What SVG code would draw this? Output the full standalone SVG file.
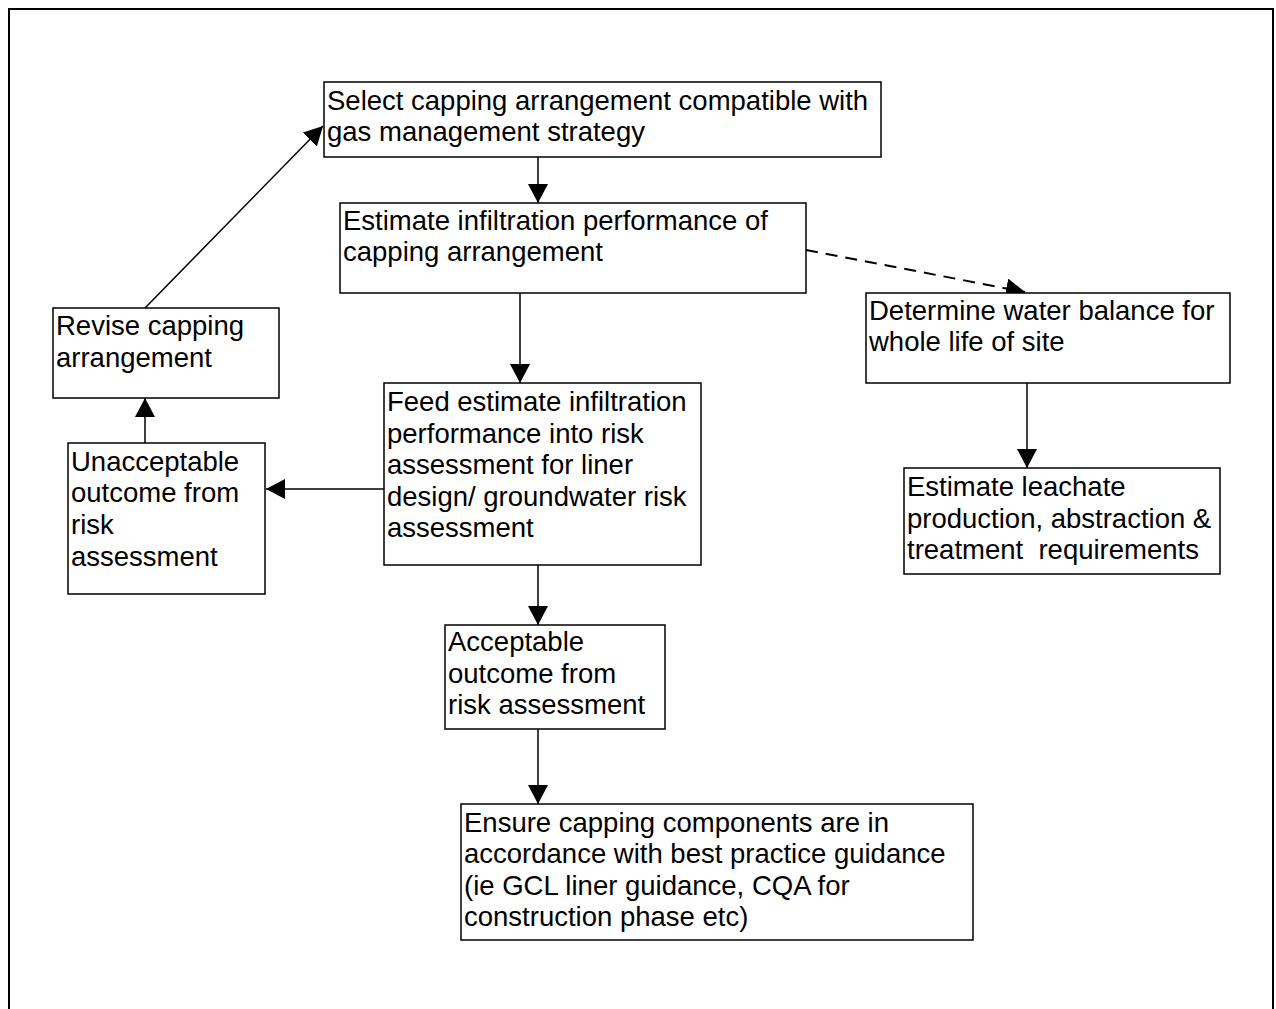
<svg xmlns="http://www.w3.org/2000/svg" width="1276" height="1009" viewBox="0 0 1276 1009">
<style>
.box{fill:#fff;stroke:#000;stroke-width:1.5}
.t{font-family:"Liberation Sans",Arial,sans-serif;font-size:27.5px;fill:#000}
.c{stroke:#000;stroke-width:1.5;fill:none}
.d{stroke-width:2;stroke-dasharray:12,8}
</style>
<defs>
<marker id="ah" markerUnits="userSpaceOnUse" markerWidth="22" markerHeight="22" refX="19" refY="10" orient="auto">
<path d="M0,0 L19,10 L0,20 Z" fill="#000"/>
</marker>
</defs>
<rect x="9" y="9" width="1264" height="1010" fill="#fff" stroke="#000" stroke-width="2"/>
<g id="connectors">
<line class="c" x1="538" y1="157" x2="538" y2="203" marker-end="url(#ah)"/>
<line class="c" x1="520" y1="293" x2="520" y2="383" marker-end="url(#ah)"/>
<line class="c d" x1="806" y1="250" x2="1025" y2="292" marker-end="url(#ah)"/>
<line class="c" x1="1027" y1="383" x2="1027" y2="468" marker-end="url(#ah)"/>
<line class="c" x1="384" y1="489" x2="266" y2="489" marker-end="url(#ah)"/>
<line class="c" x1="145" y1="443" x2="145" y2="398" marker-end="url(#ah)"/>
<line class="c" x1="145" y1="308" x2="323" y2="126" marker-end="url(#ah)"/>
<line class="c" x1="538" y1="565" x2="538" y2="625" marker-end="url(#ah)"/>
<line class="c" x1="538" y1="729" x2="538" y2="804" marker-end="url(#ah)"/>
</g>
<g id="select">
<rect class="box" x="324" y="82" width="557" height="75"/>
<text class="t" x="327" y="110">Select capping arrangement compatible with</text>
<text class="t" x="327" y="141">gas management strategy</text>
</g>
<g id="estimate">
<rect class="box" x="340" y="203" width="466" height="90"/>
<text class="t" x="343" y="230">Estimate infiltration performance of</text>
<text class="t" x="343" y="261">capping arrangement</text>
</g>
<g id="water">
<rect class="box" x="866" y="293" width="364" height="90"/>
<text class="t" x="869" y="320">Determine water balance for</text>
<text class="t" x="869" y="351">whole life of site</text>
</g>
<g id="leachate">
<rect class="box" x="904" y="468" width="316" height="106"/>
<text class="t" x="907" y="496">Estimate leachate</text>
<text class="t" x="907" y="528">production, abstraction &amp;</text>
<text class="t" x="907" y="559" xml:space="preserve">treatment  requirements</text>
</g>
<g id="revise">
<rect class="box" x="53" y="308" width="226" height="90"/>
<text class="t" x="56" y="335">Revise capping</text>
<text class="t" x="56" y="367">arrangement</text>
</g>
<g id="unacceptable">
<rect class="box" x="68" y="443" width="197" height="151"/>
<text class="t" x="71" y="471">Unacceptable</text>
<text class="t" x="71" y="502">outcome from</text>
<text class="t" x="71" y="534">risk</text>
<text class="t" x="71" y="566">assessment</text>
</g>
<g id="feed">
<rect class="box" x="384" y="383" width="317" height="182"/>
<text class="t" x="387" y="411">Feed estimate infiltration</text>
<text class="t" x="387" y="443">performance into risk</text>
<text class="t" x="387" y="474">assessment for liner</text>
<text class="t" x="387" y="506">design/ groundwater risk</text>
<text class="t" x="387" y="537">assessment</text>
</g>
<g id="acceptable">
<rect class="box" x="445" y="625" width="220" height="104"/>
<text class="t" x="448" y="651">Acceptable</text>
<text class="t" x="448" y="683">outcome from</text>
<text class="t" x="448" y="714">risk assessment</text>
</g>
<g id="ensure">
<rect class="box" x="461" y="804" width="512" height="136"/>
<text class="t" x="464" y="832">Ensure capping components are in</text>
<text class="t" x="464" y="863">accordance with best practice guidance</text>
<text class="t" x="464" y="895">(ie GCL liner guidance, CQA for</text>
<text class="t" x="464" y="926">construction phase etc)</text>
</g>
</svg>
